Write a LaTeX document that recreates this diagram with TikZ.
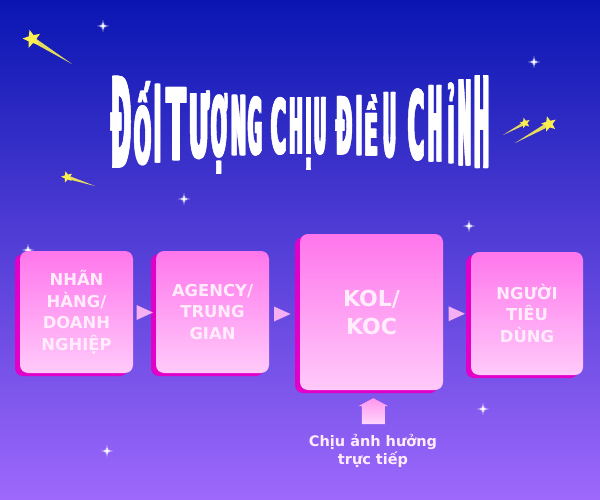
\documentclass[tikz,border=0pt]{standalone}
\usepackage{fontspec}
\usepackage{graphicx}
\newfontfamily\titlefont{DejaVu Sans}[FakeBold=2]
\newfontfamily\boxfont{DejaVu Sans}
\usetikzlibrary{shadows,shapes.geometric,calc}
\definecolor{bgtop}{RGB}{10,22,178}
\definecolor{bgmid}{RGB}{72,58,208}
\definecolor{bgbot}{RGB}{158,104,252}
\definecolor{cardtop}{RGB}{255,118,236}
\definecolor{cardbot}{RGB}{255,202,250}
\definecolor{cardshadow}{RGB}{226,0,200}
\definecolor{txt}{RGB}{255,236,252}
\definecolor{tric}{RGB}{245,175,242}
\definecolor{startc}{RGB}{252,240,80}
\definecolor{uptop}{RGB}{255,150,238}
\definecolor{upbot}{RGB}{255,214,252}
\tikzset{
  card/.style={rounded corners=8pt, top color=cardtop, bottom color=cardbot,
    general shadow={fill=cardshadow, shadow xshift=-5pt, shadow yshift=-3pt},
    text=txt, align=center, inner sep=0pt,
    font=\boxfont\bfseries\fontsize{16.4}{21.5}\selectfont},
  bigcard/.style={card, font=\boxfont\bfseries\fontsize{22}{28}\selectfont},
  tri/.pic={\fill[tric] (-8,-7.5) -- (8.5,0) -- (-8,7.5) -- cycle;},
  sparkle/.pic={
    \fill[white, opacity=0.3] (0,0) circle (3);
    \fill[white] (0,-6) -- (0.8,-0.8) -- (6,0) -- (0.8,0.8) -- (0,6) -- (-0.8,0.8) -- (-6,0) -- (-0.8,-0.8) -- cycle;}
}
% #1 star centre, #2 tail end, #3 star diameter, #4 tail half width
\newcommand\shootstar[4]{%
  \coordinate (sc) at #1; \coordinate (st) at #2;
  \fill[startc, opacity=0.9] (st) -- ($(sc)!#4!90:(st)$) -- ($(sc)!#4!-90:(st)$) -- cycle;
  \node[star, star points=5, star point ratio=2.3, fill=startc, inner sep=0pt, minimum size=#3, rotate=15] at (sc) {};
}
\begin{document}
\begin{tikzpicture}[x=1pt,y=-1pt]
\useasboundingbox (0,0) rectangle (600,500);
\shade[top color=bgtop, middle color=bgmid, bottom color=bgbot] (0,0) rectangle (600,500);

% sparkles
\foreach \p in {(103,26),(534,62),(184,199),(469,226),(483,409),(107,451),(28,250)}
  \pic at \p {sparkle};

% shooting stars
\shootstar{(32,39)}{(72,64)}{19pt}{2.6pt}
\shootstar{(67,177)}{(95,186)}{12pt}{1.8pt}
\shootstar{(525,123)}{(503,135)}{11pt}{1.6pt}
\shootstar{(549,124)}{(515,143)}{16pt}{2.3pt}

% title
\foreach \c/\x/\w [count=\i] in {Đ/121/22,Ố/142.5/19,I/157.5/9,T/176/21,Ư/199/22,Ợ/219/18,N/238.5/17,G/255/16,C/278.5/17,H/296/15,Ị/308.5/7.5,U/320/14,Đ/344/18,I/359/8,Ề/371/15,U/389.5/15,C/416/18,H/435/16,Ỉ/451/8,N/464.5/15,H/481.5/17}{
  \pgfmathsetmacro\u{(\x-300)/185}
  \pgfmathsetmacro\t{\u*\u}
  \pgfmathsetmacro\h{55+37*\t}
  \pgfmathsetmacro\yb{125.5-4*\t+\h/2}
  \pgfmathsetmacro\ww{\w-1.6}
  \foreach \dx [count=\j] in {-0.8,0,0.8}
    \node[anchor=base, inner sep=0pt, text=white] (title\i-\j) at (\x+\dx,\yb)
      {\resizebox{\ww pt}{\h pt}{\titlefont\bfseries \c}};
}

% boxes
\node[card, minimum width=113pt, minimum height=122pt] (b1) at (76.5,312) {NHÃN\\HÀNG/\\DOANH\\NGHIỆP};
\node[card, minimum width=113pt, minimum height=122pt] (b2) at (212.5,312) {AGENCY/\\TRUNG\\GIAN};
\node[bigcard, minimum width=143pt, minimum height=156pt] (b3) at (371.5,312) {KOL/\\KOC};
\node[card, minimum width=112pt, minimum height=123pt] (b4) at (527,313.5) {NGƯỜI\\TIÊU\\DÙNG};

% arrows between boxes
\pic at ($(b1.east)!0.5!(b2.west)+(0,0.5)$) {tri};
\pic at ($(b2.east)!0.5!(b3.west)+(-2.5,2)$) {tri};
\pic at ($(b3.east)!0.5!(b4.west)+(-0.5,1)$) {tri};

% label and up arrow
\node[text=txt, align=center, inner sep=0pt, font=\boxfont\bfseries\fontsize{14.5}{18}\selectfont] (lbl) at (373,451) {Chịu ảnh hưởng\\trực tiếp};
\coordinate (ua) at ($(b3.south)+(1.8,8)$);
\shade[shift={(ua)}, top color=uptop, bottom color=upbot] (-11.5,26) -- (-11.5,8) -- (-15,8) -- (0,0) -- (15,8) -- (11.5,8) -- (11.5,26) -- cycle;
\end{tikzpicture}
\end{document}
